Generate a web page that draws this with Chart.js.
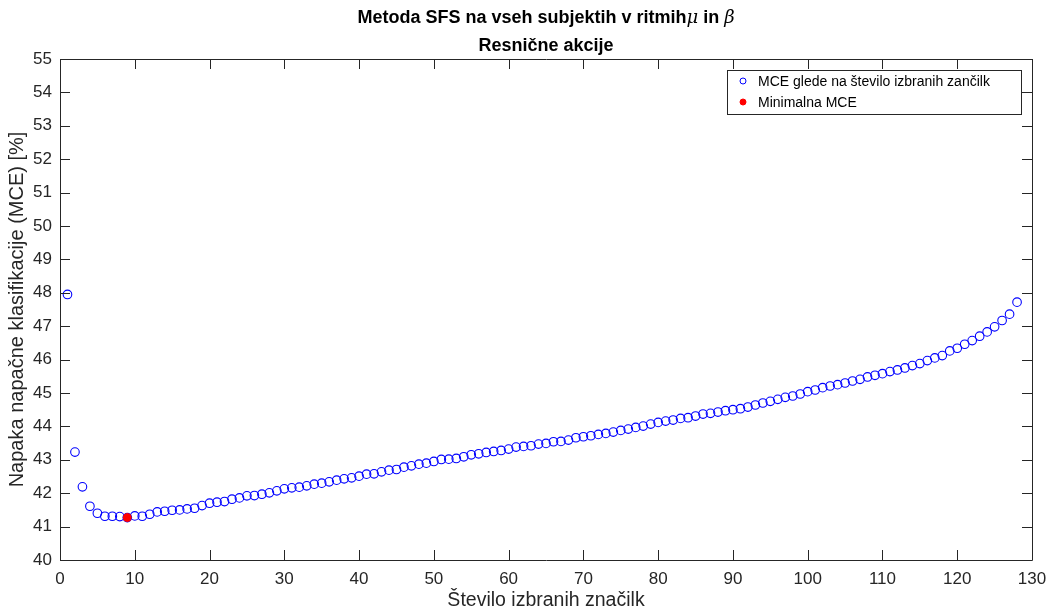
<!DOCTYPE html>
<html><head><meta charset="utf-8">
<script src="https://cdn.jsdelivr.net/npm/chart.js@4.4.0/dist/chart.umd.min.js"></script>
<style>html,body{margin:0;padding:0;background:#fff}#wrap{width:1050px;height:610px;position:relative}canvas{display:block}</style>
</head><body><div id="wrap"><canvas id="c" width="1050" height="610"></canvas></div>
<script>
const titleMain = 'Metoda SFS na vseh subjektih v ritmih';
const titleGreek1 = 'μ';
const titleMid = ' in ';
const titleGreek2 = 'β';
const subTitle = 'Resnične akcije';
const xAxisTitle = 'Število izbranih značilk';
const yAxisTitle = 'Napaka napačne klasifikacije (MCE) [%]';
const seriesLabel = 'MCE glede na število izbranih zančilk';
const minLabel = 'Minimalna MCE';

const featureCounts = [1,2,3,4,5,6,7,8,9,10,11,12,13,14,15,16,17,18,19,20,21,22,23,24,25,26,27,28,29,30,31,32,33,34,35,36,37,38,39,40,41,42,43,44,45,46,47,48,49,50,51,52,53,54,55,56,57,58,59,60,61,62,63,64,65,66,67,68,69,70,71,72,73,74,75,76,77,78,79,80,81,82,83,84,85,86,87,88,89,90,91,92,93,94,95,96,97,98,99,100,101,102,103,104,105,106,107,108,109,110,111,112,113,114,115,116,117,118,119,120,121,122,123,124,125,126,127,128];
const mceValues = [47.95,43.23,42.19,41.61,41.40,41.31,41.31,41.30,41.27,41.32,41.31,41.37,41.44,41.46,41.49,41.50,41.53,41.55,41.63,41.70,41.73,41.75,41.82,41.86,41.92,41.93,41.97,42.01,42.07,42.13,42.16,42.18,42.22,42.27,42.30,42.34,42.39,42.43,42.46,42.51,42.57,42.58,42.64,42.69,42.71,42.78,42.82,42.87,42.90,42.95,43.01,43.02,43.04,43.09,43.15,43.18,43.22,43.25,43.28,43.32,43.38,43.40,43.42,43.47,43.49,43.54,43.55,43.59,43.66,43.69,43.72,43.76,43.79,43.83,43.88,43.92,43.97,44.01,44.07,44.12,44.16,44.19,44.24,44.26,44.31,44.37,44.39,44.43,44.47,44.50,44.53,44.58,44.64,44.70,44.75,44.81,44.87,44.91,44.97,45.04,45.09,45.16,45.21,45.25,45.30,45.36,45.41,45.48,45.53,45.58,45.64,45.69,45.75,45.82,45.88,45.97,46.05,46.12,46.26,46.34,46.46,46.57,46.70,46.83,46.98,47.17,47.36,47.72];
const xTicks = [0,10,20,30,40,50,60,70,80,90,100,110,120,130];
const yTicks = [40,41,42,43,44,45,46,47,48,49,50,51,52,53,54,55];

const FONT = '"Liberation Sans", Arial, Helvetica, sans-serif';
const AXIS_COLOR = '#262626';

let minIdx = 0;
mceValues.forEach((v, i) => { if (v < mceValues[minIdx]) minIdx = i; });

const mainPoints = featureCounts.map((n, i) => ({x: n, y: mceValues[i]}));
const minPoints = [{x: featureCounts[minIdx], y: mceValues[minIdx]}];

const framePlugin = {
  id: 'frame',
  afterDraw(chart) {
    const ctx = chart.ctx;
    const a = chart.chartArea;
    const xs = chart.scales.x, ys = chart.scales.y;
    ctx.save();
    ctx.strokeStyle = AXIS_COLOR;
    ctx.lineWidth = 1;
    ctx.beginPath();
    ctx.rect(Math.round(a.left) + 0.5, Math.round(a.top) + 0.5, Math.round(a.right - a.left), Math.round(a.bottom - a.top));
    ctx.stroke();
    const tl = 10;
    ctx.beginPath();
    xTicks.forEach(v => {
      const px = Math.round(xs.getPixelForValue(v)) + 0.5;
      ctx.moveTo(px, a.bottom); ctx.lineTo(px, a.bottom - tl);
      ctx.moveTo(px, a.top); ctx.lineTo(px, a.top + tl);
    });
    yTicks.forEach(v => {
      const py = Math.round(ys.getPixelForValue(v)) + 0.5;
      ctx.moveTo(a.left, py); ctx.lineTo(a.left + tl, py);
      ctx.moveTo(a.right, py); ctx.lineTo(a.right - tl, py);
    });
    ctx.stroke();

    // title
    const cx = (a.left + a.right) / 2;
    const bold = 'bold 18px ' + FONT;
    const greek = 'italic 18px "DejaVu Serif", "Liberation Serif", serif';
    ctx.fillStyle = '#000';
    ctx.textBaseline = 'middle';
    ctx.textAlign = 'left';
    const parts = [[titleMain, bold], [titleGreek1, greek], [titleMid, bold], [titleGreek2, greek]];
    let total = 0;
    parts.forEach(p => { ctx.font = p[1]; total += ctx.measureText(p[0]).width; });
    let x = cx - total / 2;
    parts.forEach(p => { ctx.font = p[1]; ctx.fillText(p[0], x, 18); x += ctx.measureText(p[0]).width; });
    ctx.font = bold;
    ctx.textAlign = 'center';
    ctx.fillText(subTitle, cx, 46);

    // legend
    const lx = 727.5, ly = 70.5, lw = 294, lh = 44;
    ctx.fillStyle = '#fff';
    ctx.fillRect(lx, ly, lw, lh);
    ctx.strokeStyle = AXIS_COLOR;
    ctx.strokeRect(lx, ly, lw, lh);
    const ds = chart.data.datasets;
    const items = [ds[1], ds[0]];
    items.forEach((d, i) => {
      const yy = 82 + i * 21;
      ctx.beginPath();
      ctx.arc(743, yy - 1, 3, 0, Math.PI * 2);
      if (d.backgroundColor && d.backgroundColor !== 'rgba(0,0,0,0)') { ctx.fillStyle = d.backgroundColor; ctx.fill(); }
      ctx.strokeStyle = d.borderColor; ctx.lineWidth = 1; ctx.stroke();
      ctx.fillStyle = '#000';
      ctx.font = '14px ' + FONT;
      ctx.textAlign = 'left';
      ctx.textBaseline = 'middle';
      ctx.fillText(d.label, 758, yy);
    });
    ctx.restore();
  }
};

new Chart(document.getElementById('c'), {
  type: 'scatter',
  data: {
    datasets: [
      {label: minLabel, data: minPoints, order: 0, pointStyle: 'circle', pointRadius: 4, pointHoverRadius: 4,
       backgroundColor: '#ff0000', borderColor: '#ff0000', borderWidth: 1, showLine: false},
      {label: seriesLabel, data: mainPoints, order: 1, pointStyle: 'circle', pointRadius: 4.3, pointHoverRadius: 4.3,
       backgroundColor: 'rgba(0,0,0,0)', borderColor: '#0000ff', borderWidth: 1.1, showLine: false}
    ]
  },
  options: {
    responsive: false, animation: false, devicePixelRatio: 1,
    layout: {padding: {top: 59, right: 18, left: 0, bottom: 0}},
    plugins: {legend: {display: false}, title: {display: false}, tooltip: {enabled: false}},
    scales: {
      x: {
        type: 'linear', position: 'bottom', min: 0, max: 130,
        afterFit: s => { s.height = 50; },
        afterBuildTicks: s => { s.ticks = xTicks.map(v => ({value: v})); },
        grid: {display: false}, border: {display: false},
        ticks: {font: {family: FONT, size: 17}, color: AXIS_COLOR, padding: 1, maxRotation: 0, autoSkip: false},
        title: {display: true, text: xAxisTitle, font: {family: FONT, size: 19.5}, color: AXIS_COLOR, padding: {top: 0, bottom: -2}}
      },
      y: {
        type: 'linear', position: 'left', min: 40, max: 55,
        afterFit: s => { s.width = 60; },
        afterBuildTicks: s => { s.ticks = yTicks.map(v => ({value: v})); },
        grid: {display: false}, border: {display: false},
        ticks: {font: {family: FONT, size: 17}, color: AXIS_COLOR, padding: 0, autoSkip: false},
        title: {display: true, text: yAxisTitle, font: {family: FONT, size: 20}, color: AXIS_COLOR, padding: {top: 5, bottom: 0}}
      }
    }
  },
  plugins: [framePlugin]
});
</script></body></html>
